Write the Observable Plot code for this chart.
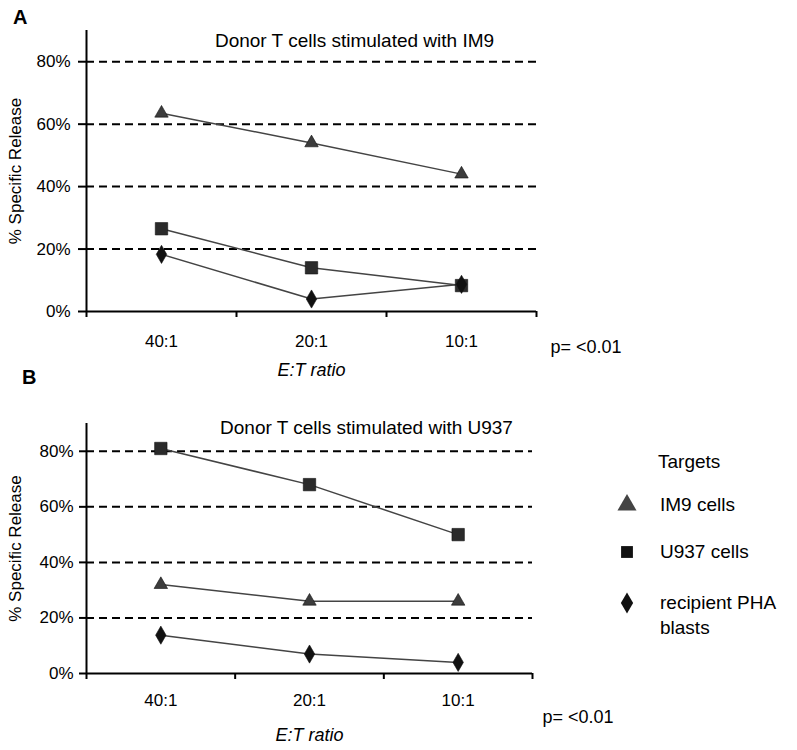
<!DOCTYPE html>
<html><head><meta charset="utf-8">
<script src="https://cdn.jsdelivr.net/npm/d3@7"></script>
<script src="https://cdn.jsdelivr.net/npm/@observablehq/plot@0.6"></script>
<style>
body{margin:0;background:#fff;font-family:"Liberation Sans",Arial,sans-serif;color:#000;}
#wrap{position:relative;width:797px;height:750px;overflow:hidden;background:#fff;}
.panel{position:absolute;left:0;}
.lbl{position:absolute;font-weight:bold;font-size:20px;line-height:20px;}
.lt{position:absolute;font-size:19px;line-height:20px;transform:translateY(-50%);white-space:nowrap;}
.ls{position:absolute;width:30px;height:30px;transform:translate(-50%,-50%);}
</style></head><body><div id="wrap"></div>
<script>
const ratios = ["40:1", "20:1", "10:1"];
const targets = ["IM9 cells", "U937 cells", "recipient PHA blasts"];
const symbols = ["triangle", "square", "diamond"];
const fills = ["#3c3c3c", "#2b2b2b", "#111111"];
const panelATitle = "Donor T cells stimulated with IM9";
const panelBTitle = "Donor T cells stimulated with U937";
const aIM9 = [63.5, 54, 44];
const aU937 = [26.5, 14, 8.3];
const aPHA = [18.3, 4, 8.7];
const bIM9 = [32, 26, 26];
const bU937 = [81, 68, 50];
const bPHA = [13.8, 7, 4];
const yTicks = [0, 20, 40, 60, 80];
const gridTicks = [20, 40, 60, 80];
const pText = "p= <0.01";
const xLabel = "E:T ratio";
const yLabel = "% Specific Release";
const legendTitle = "Targets";

const font = '"Liberation Sans", Arial, sans-serif';
const sizes = [5, 7, 5.5];

function rows(series) {
  const out = [];
  series.forEach((vals, s) => vals.forEach((v, i) => out.push({target: targets[s], s, ratio: ratios[i], i, value: v})));
  return out;
}

function panel(o) {
  const data = rows(o.series);
  const pos = d => ratios.indexOf(d.ratio) + 0.5;
  return Plot.plot({
    width: 797, height: o.height,
    marginLeft: 86, marginRight: o.marginRight, marginTop: o.marginTop, marginBottom: o.marginBottom,
    style: {background: "transparent", overflow: "visible", fontFamily: font, color: "#000"},
    x: {domain: [0, 3], axis: null},
    y: {domain: [0, 90], axis: null},
    marks: [
      Plot.ruleY(gridTicks, {stroke: "#000", strokeWidth: 2, strokeDasharray: "8,5"}),
      Plot.axisY({ticks: yTicks, tickFormat: d => d + "%", tickSize: o.yTickSize, tickPadding: o.yTickPadding, fontSize: 17, strokeWidth: 2, label: null}),
      Plot.axisX({ticks: [0, 1, 2, 3], tickFormat: () => "", tickSize: 6, strokeWidth: 2, label: null}),
      Plot.axisX({ticks: ratios.map((r, i) => i + 0.5), tickFormat: d => ratios[Math.floor(d)], tickSize: 0, tickPadding: o.xPad, fontSize: 17, label: null}),
      Plot.ruleX([0], {stroke: "#000", strokeWidth: 2}),
      Plot.ruleY([0], {stroke: "#000", strokeWidth: 2}),
      Plot.line(data, {x: pos, y: "value", z: "target", stroke: "#444", strokeWidth: 1.5}),
      ...targets.map((t, s) => Plot.dot(data.filter(d => d.s === s), {x: pos, y: "value", symbol: symbols[s], r: sizes[s], fill: fills[s], stroke: "#111", strokeWidth: 0.6})),
      Plot.text([o.title], {frameAnchor: "top", lineAnchor: "middle", textAnchor: "middle", dx: o.titleDx, dy: o.titleDy, fontSize: 19}),
      Plot.text([yLabel], {frameAnchor: "left", lineAnchor: "middle", textAnchor: "middle", rotate: -90, dx: -71, fontSize: 17}),
      Plot.text([xLabel], {frameAnchor: "bottom", lineAnchor: "middle", textAnchor: "middle", dy: o.xLabelDy, fontSize: 18, fontStyle: "italic"}),
      Plot.text([pText], {frameAnchor: "bottom-right", lineAnchor: "middle", textAnchor: "start", dx: o.pDx, dy: o.pDy, fontSize: 18})
    ]
  });
}

const wrap = document.getElementById("wrap");

const A = panel({series: [aIM9, aU937, aPHA], title: panelATitle, height: 390, marginTop: 30, marginBottom: 79, marginRight: 261,
  yTickSize: 8, yTickPadding: 8, xPad: 23, titleDx: 43, titleDy: 10, xLabelDy: 59, pDx: 14, pDy: 36});
A.classList.add("panel"); A.style.top = "0px";
wrap.appendChild(A);

const B = panel({series: [bIM9, bU937, bPHA], title: panelBTitle, height: 360, marginTop: 33, marginBottom: 77, marginRight: 265,
  yTickSize: 7, yTickPadding: 6, xPad: 20, titleDx: 57, titleDy: 4, xLabelDy: 62, pDx: 10, pDy: 44});
B.classList.add("panel"); B.style.top = "390px";
wrap.appendChild(B);

// panel letters
[["A", 13, 7], ["B", 22, 367]].forEach(([t, l, tp]) => {
  const d = document.createElement("div");
  d.className = "lbl"; d.textContent = t; d.style.left = l + "px"; d.style.top = tp + "px";
  wrap.appendChild(d);
});

// legend
const lg = document.createElement("div");
lg.className = "lt"; lg.textContent = legendTitle; lg.style.left = "658px"; lg.style.top = "462px";
wrap.appendChild(lg);
const legendRows = [505, 552, 603];
const legendSymSize = [157, 140, 130];
const legendFill = ["#444", "#111", "#111"];
const symType = {triangle: d3.symbolTriangle, square: d3.symbolSquare, diamond: d3.symbolDiamond};
targets.forEach((t, s) => {
  const svg = d3.create("svg").attr("class", "ls").attr("viewBox", "-15 -15 30 30")
    .style("left", "627px").style("top", legendRows[s] + "px");
  svg.append("path").attr("d", d3.symbol(symType[symbols[s]], legendSymSize[s])()).attr("fill", legendFill[s]);
  wrap.appendChild(svg.node());
  const words = s === 2 ? ["recipient PHA", "blasts"] : [t];
  words.forEach((w, k) => {
    const d = document.createElement("div");
    d.className = "lt"; d.textContent = w; d.style.left = "660px"; d.style.top = (legendRows[s] + k * 25) + "px";
    wrap.appendChild(d);
  });
});
</script></body></html>
